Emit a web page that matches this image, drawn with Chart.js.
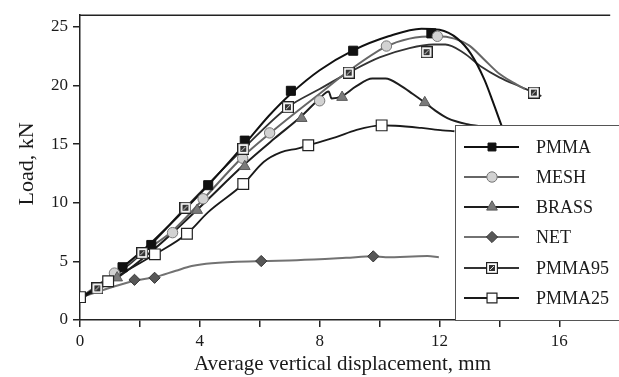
<!DOCTYPE html>
<html><head><meta charset="utf-8">
<script src="https://cdn.jsdelivr.net/npm/chart.js@4/dist/chart.umd.min.js"></script>
<style>html,body{margin:0;padding:0;background:#fff;overflow:hidden}</style>
</head><body>
<canvas id="c" width="619" height="377"></canvas>
<script>
// ---- data ----
const seriesNames = ['PMMA','MESH','BRASS','NET','PMMA95','PMMA25'];
const xTickValues = [0,2,4,6,8,10,12,14,16];
const xTickLabels = ['0','','4','','8','','12','','16'];
const yTickValues = [0,5,10,15,20,25];
const xTitle = 'Average vertical displacement, mm';
const yTitle = 'Load, kN';

const pmmaCurve = [[0,1.9],[0.7,3.0],[1.42,4.5],[2.38,6.6],[3.3,8.9],[4.28,11.5],[5.5,15.0],[6.3,17.4],[7.04,19.3],[8.0,21.3],[9.12,23.0],[10.3,24.2],[11.4,24.85],[12.0,24.75],[12.6,24.0],[13.05,22.7],[13.5,20.5],[13.8,18.5],[14.1,16.4],[14.4,14.5]];
const pmmaMarks = [[1.42,4.5],[2.38,6.4],[4.28,11.5],[5.5,15.3],[7.04,19.55],[9.12,22.97],[11.73,24.45]];

const meshCurve = [[0,1.9],[0.5,2.8],[1.15,4.0],[2.0,5.6],[3.09,7.6],[4.11,10.3],[5.43,13.9],[6.33,15.9],[7.2,17.7],[8.0,19.3],[9.0,21.3],[10.2,23.3],[11.0,24.0],[11.93,24.2],[12.5,24.0],[13.0,23.4],[13.5,22.2],[14.0,21.0],[14.5,20.2],[14.85,19.7]];
const meshMarks = [[1.15,4.0],[3.09,7.45],[4.11,10.34],[5.43,13.8],[6.33,15.96],[8.0,18.7],[10.23,23.37],[11.93,24.2]];

const brassCurve = [[0,1.8],[1.24,3.6],[2.5,6.1],[3.91,9.4],[5.5,13.3],[6.5,15.5],[7.4,17.4],[8.0,18.9],[8.3,19.5],[8.4,18.9],[8.75,19.1],[9.2,19.9],[9.76,20.6],[10.2,20.6],[10.7,20.0],[11.1,19.3],[11.51,18.55],[11.84,17.9],[12.28,17.2],[12.93,16.7],[13.6,16.45],[14.1,16.35],[14.8,16.2]];
const brassMarks = [[0,1.8],[1.24,3.6],[3.91,9.36],[5.5,13.1],[7.4,17.2],[8.75,19.0],[11.51,18.55]];

const netCurve = [[0,1.9],[1.0,2.75],[1.82,3.35],[2.49,3.65],[3.2,4.2],[3.73,4.6],[4.4,4.85],[6.05,5.03],[7.24,5.1],[8.88,5.3],[9.79,5.43],[10.2,5.35],[11.6,5.45],[11.98,5.35]];
const netMarks = [[1.82,3.43],[2.49,3.6],[6.05,5.03],[9.79,5.43]];

const pmma95Curve = [[0,1.9],[0.58,2.7],[2.08,5.7],[3.52,9.58],[5.45,14.6],[6.94,18.15],[8.0,19.7],[8.97,21.1],[10.0,22.4],[11.0,23.2],[11.8,23.5],[12.2,23.5],[12.8,22.8],[13.4,21.6],[14.0,20.7],[14.7,19.9],[15.15,19.4],[15.4,19.1]];
const pmma95Marks = [[0.58,2.7],[2.08,5.7],[3.52,9.58],[5.45,14.6],[6.94,18.15],[8.97,21.1],[11.57,22.85],[15.15,19.4]];

const pmma25Curve = [[0,1.95],[0.94,3.3],[2.5,5.6],[3.57,7.36],[4.28,9.2],[5.45,11.6],[6.14,13.5],[6.7,14.3],[7.29,14.65],[7.62,14.9],[8.55,15.6],[9.21,16.2],[10.07,16.6],[10.53,16.57],[11.4,16.38],[12.1,16.18],[12.5,16.1]];
const pmma25Marks = [[0,1.95],[0.94,3.3],[2.5,5.6],[3.57,7.36],[5.45,11.6],[7.62,14.9],[10.07,16.6]];

const curves = [pmmaCurve, meshCurve, brassCurve, netCurve, pmma95Curve, pmma25Curve];
const marks = [pmmaMarks, meshMarks, brassMarks, netMarks, pmma95Marks, pmma25Marks];

// ---- styles ----
const FONT = "'Liberation Serif','Times New Roman',serif";
const TXT = '#1a1a1a';

function makePmma95Marker(){
  const cv = document.createElement('canvas');
  cv.width = 12; cv.height = 12;
  const g = cv.getContext('2d');
  g.fillStyle = '#fff'; g.fillRect(0,0,12,12);
  g.strokeStyle = '#222'; g.lineWidth = 1.2; g.strokeRect(0.6,0.6,10.8,10.8);
  g.fillStyle = '#333'; g.fillRect(3,3,6,6);
  g.strokeStyle = '#ddd'; g.lineWidth = 1; g.beginPath(); g.moveTo(4,8); g.lineTo(8,4); g.stroke();
  return cv;
}
const p95 = makePmma95Marker();

const styles = [
  {line:'#111111', lw:2,   ps:'rect',     r:6.4, bg:'#111111', bc:'#111111', bw:1},
  {line:'#666666', lw:2,   ps:'circle',   r:5.2, bg:'#d2d2d2', bc:'#777777', bw:1},
  {line:'#1e1e1e', lw:2,   ps:'triangle', r:6.2, bg:'#7a7a7a', bc:'#5a5a5a', bw:1},
  {line:'#727272', lw:2,   ps:'rectRot',  r:5.6, bg:'#575757', bc:'#333333', bw:1},
  {line:'#333333', lw:1.8, ps:p95,        r:6,   bg:'#ffffff', bc:'#222222', bw:1},
  {line:'#1a1a1a', lw:1.8, ps:'rect',     r:7.6, bg:'#ffffff', bc:'#222222', bw:1.2}
];

const toPts = arr => arr.map(p => ({x:p[0], y:p[1]}));
const datasets = [];
seriesNames.forEach((name,i) => {
  const s = styles[i];
  datasets.push({label:name, data:toPts(curves[i]), showLine:true, borderColor:s.line, borderWidth:s.lw,
    pointRadius:0, pointHoverRadius:0, cubicInterpolationMode:'monotone', fill:false, order:20+i});
  datasets.push({label:name+' markers', data:toPts(marks[i]), showLine:false, pointStyle:s.ps, pointRadius:s.r,
    pointHoverRadius:s.r, backgroundColor:s.bg, borderColor:s.bc, pointBorderWidth:s.bw, order:10-i});
});

function drawMarker(ctx, s, x, y){
  if (typeof s.ps !== 'string'){ ctx.drawImage(s.ps, x - s.ps.width/2, y - s.ps.height/2); return; }
  ctx.save();
  ctx.fillStyle = s.bg; ctx.strokeStyle = s.bc; ctx.lineWidth = s.bw;
  ctx.beginPath();
  const r = s.r;
  if (s.ps === 'rect'){ const h = r*Math.SQRT1_2; ctx.rect(x-h,y-h,2*h,2*h); }
  else if (s.ps === 'circle'){ ctx.arc(x,y,r,0,Math.PI*2); }
  else if (s.ps === 'triangle'){
    ctx.moveTo(x, y - r); ctx.lineTo(x + r*Math.cos(Math.PI/6), y + r/2); ctx.lineTo(x - r*Math.cos(Math.PI/6), y + r/2); ctx.closePath();
  } else if (s.ps === 'rectRot'){
    ctx.moveTo(x, y-r); ctx.lineTo(x+r, y); ctx.lineTo(x, y+r); ctx.lineTo(x-r, y); ctx.closePath();
  }
  ctx.fill(); ctx.stroke();
  ctx.restore();
}

const overlay = {
  id:'overlay',
  afterDatasetsDraw(chart){
    const ctx = chart.ctx, a = chart.chartArea;
    ctx.save();
    // top frame line
    ctx.strokeStyle = '#222'; ctx.lineWidth = 1.5;
    ctx.beginPath(); ctx.moveTo(a.left, a.top); ctx.lineTo(a.right, a.top); ctx.stroke();
    // legend box
    const bx = 455, by = 125;
    ctx.fillStyle = '#fff'; ctx.fillRect(bx, by, chart.width - bx + 2, a.bottom - by);
    ctx.strokeStyle = '#555'; ctx.lineWidth = 1;
    ctx.strokeRect(bx + 0.5, by + 0.5, chart.width - bx + 5, a.bottom - by);
    const rowY = [147, 177, 207, 237, 268, 298];
    ctx.font = '18px ' + FONT; ctx.textBaseline = 'middle'; ctx.textAlign = 'left';
    seriesNames.forEach((name,i) => {
      const s = styles[i], y = rowY[i];
      ctx.strokeStyle = s.line; ctx.lineWidth = s.lw;
      ctx.beginPath(); ctx.moveTo(464, y); ctx.lineTo(519, y); ctx.stroke();
      drawMarker(ctx, Object.assign({}, s, {r: s.ps==='rect' && i===0 ? 5.6 : (i===5 ? 7 : s.r)}), 492, y);
      ctx.fillStyle = TXT; ctx.fillText(name, 536, y + 1);
    });
    // axis titles
    ctx.fillStyle = TXT;
    ctx.font = '21px ' + FONT; ctx.textAlign = 'center'; ctx.textBaseline = 'alphabetic';
    ctx.fillText(xTitle, 342.5, 370);
    ctx.save();
    ctx.translate(33, 164); ctx.rotate(-Math.PI/2);
    ctx.font = '22px ' + FONT; ctx.textAlign = 'center'; ctx.textBaseline = 'alphabetic';
    ctx.fillText(yTitle, 0, 0);
    ctx.restore();
    ctx.restore();
  }
};

new Chart(document.getElementById('c'), {
  type:'scatter',
  data:{datasets},
  options:{
    responsive:false, devicePixelRatio:1, animation:false,
    layout:{padding:{top:11, right:0, left:0, bottom:0}},
    plugins:{legend:{display:false}, tooltip:{enabled:false}},
    scales:{
      x:{type:'linear', min:0, max:17.7,
        afterBuildTicks:s => { s.ticks = xTickValues.map(v => ({value:v})); },
        afterFit:s => { s.height = 57; },
        ticks:{callback:(v,i) => xTickLabels[i], font:{family:FONT, size:17}, color:TXT, padding:4, maxRotation:0, autoSkip:false},
        grid:{drawOnChartArea:false, drawTicks:true, tickLength:7, color:'#222', lineWidth:1.5},
        border:{display:true, color:'#222', width:1.5}},
      y:{type:'linear', min:0, max:26,
        afterBuildTicks:s => { s.ticks = yTickValues.map(v => ({value:v})); },
        afterFit:s => { s.width = 80; },
        ticks:{callback:v => String(v), font:{family:FONT, size:17}, color:TXT, padding:5, autoSkip:false},
        grid:{drawOnChartArea:false, drawTicks:true, tickLength:7, color:'#222', lineWidth:1.5},
        border:{display:true, color:'#222', width:1.5}}
    }
  },
  plugins:[overlay]
});
</script>
</body></html>
